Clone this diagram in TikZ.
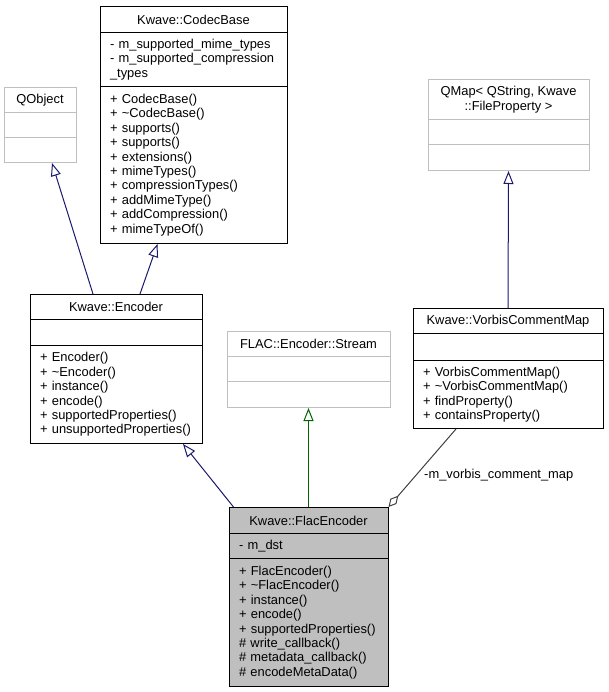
\documentclass[tikz,border=0pt]{standalone}
\usepackage{fontspec}
\setmainfont{Liberation Sans}
\usepackage{xcolor}
\usepackage{tikz}
\usetikzlibrary{arrows.meta}

\definecolor{edgeblue}{HTML}{191970}
\definecolor{edgegreen}{HTML}{006400}
\definecolor{edgegray}{HTML}{404040}
\definecolor{boxgray}{HTML}{BFBFBF}

\begin{document}
\begin{tikzpicture}[
      x=1pt, y=-1pt,
      cls/.style={draw=black, fill=white, line width=1pt, anchor=north,
        inner ysep=0pt,
        font={\fontsize{12.9}{14.4}\selectfont}},
      ttl/.style={cls, align=center, inner xsep=4pt},
      mem/.style={cls, align=left, inner xsep=10pt},
      ext/.style={draw=boxgray},
      cur/.style={fill=boxgray},
      inh/.style={draw=edgeblue, line width=1pt,
        -{Triangle[open, length=13pt, width=10pt]}},
      impl/.style={draw=edgegreen, line width=1pt,
        -{Triangle[open, length=13pt, width=10pt]}},
      agg/.style={draw=edgegray, line width=1pt,
        {Diamond[open, length=15pt, width=8pt]}-},
      lbl/.style={font={\fontsize{12.9}{14.4}\selectfont}, inner sep=0pt, anchor=west}
    ]
    \useasboundingbox (0,0) rectangle (609,692);

    % base classes
    \node[ttl, minimum width=187pt, minimum height=26pt] (cb) at (193.5,6) {Kwave::CodecBase};
    \node[mem, text width=167pt, minimum height=54pt] (cb-a) at (193.5,32)
      {- m\_supported\_mime\_types\\- m\_supported\_compression\\\_types};
    \node[mem, text width=167pt, minimum height=157pt] (cb-m) at (193.5,86)
      {+ CodecBase()\\+ \textasciitilde CodecBase()\\+ supports()\\+ supports()\\+ extensions()\\+ mimeTypes()\\+ compressionTypes()\\+ addMimeType()\\+ addCompression()\\+ mimeTypeOf()};

    \node[ttl, ext, minimum width=72pt, minimum height=25pt] (qo) at (40,87) {QObject};
    \node[mem, ext, text width=52pt, minimum height=25pt] (qo-a) at (40,112) {};
    \node[mem, ext, text width=52pt, minimum height=25pt] (qo-m) at (40,137) {};

    \node[ttl, ext, minimum width=161pt, minimum height=40pt] (qm) at (508.5,79)
      {QMap< QString, Kwave\\::FileProperty >};
    \node[mem, ext, text width=141pt, minimum height=25pt] (qm-a) at (508.5,119) {};
    \node[mem, ext, text width=141pt, minimum height=26pt] (qm-m) at (508.5,144) {};

    % middle row
    \node[ttl, minimum width=172pt, minimum height=25pt] (enc) at (116,294) {Kwave::Encoder};
    \node[mem, text width=152pt, minimum height=26pt] (enc-a) at (116,319) {};
    \node[mem, text width=152pt, minimum height=98pt] (enc-m) at (116,345)
      {+ Encoder()\\+ \textasciitilde Encoder()\\+ instance()\\+ encode()\\+ supportedProperties()\\+ unsupportedProperties()};

    \node[ttl, ext, minimum width=163pt, minimum height=25pt] (st) at (308.5,331) {FLAC::Encoder::Stream};
    \node[mem, ext, text width=143pt, minimum height=25pt] (st-a) at (308.5,356) {};
    \node[mem, ext, text width=143pt, minimum height=26pt] (st-m) at (308.5,381) {};

    \node[ttl, minimum width=190pt, minimum height=25pt] (vc) at (508,308) {Kwave::VorbisCommentMap};
    \node[mem, text width=170pt, minimum height=27pt] (vc-a) at (508,333) {};
    \node[mem, text width=170pt, minimum height=68pt] (vc-m) at (508,360)
      {+ VorbisCommentMap()\\+ \textasciitilde VorbisCommentMap()\\+ findProperty()\\+ containsProperty()};

    % the class itself
    \node[ttl, cur, minimum width=159pt, minimum height=26pt] (fe) at (308.5,507) {Kwave::FlacEncoder};
    \node[mem, cur, text width=139pt, minimum height=25pt] (fe-a) at (308.5,533) {- m\_dst};
    \node[mem, cur, text width=139pt, minimum height=128pt] (fe-m) at (308.5,558)
      {+ FlacEncoder()\\+ \textasciitilde FlacEncoder()\\+ instance()\\+ encode()\\+ supportedProperties()\\\# write\_callback()\\\# metadata\_callback()\\\# encodeMetaData()};

    % edges
    \draw[inh] ([xshift=-23pt]enc.north) -- ([xshift=12pt]qo-m.south);
    \draw[inh] ([xshift=24pt]enc.north) -- ([xshift=-36pt]cb-m.south);
    \draw[inh] ([xshift=-75pt]fe.north) -- ([xshift=67pt]enc-m.south);
    \draw[impl] (fe.north) -- (st-m.south);
    \draw[inh] (vc.north) -- (qm-m.south);
    \draw[agg] (fe.north east) -- ([xshift=-52pt]vc-m.south);
    \node[lbl] (vlabel) at (424,475) {-m\_vorbis\_comment\_map};

\end{tikzpicture}
\end{document}
